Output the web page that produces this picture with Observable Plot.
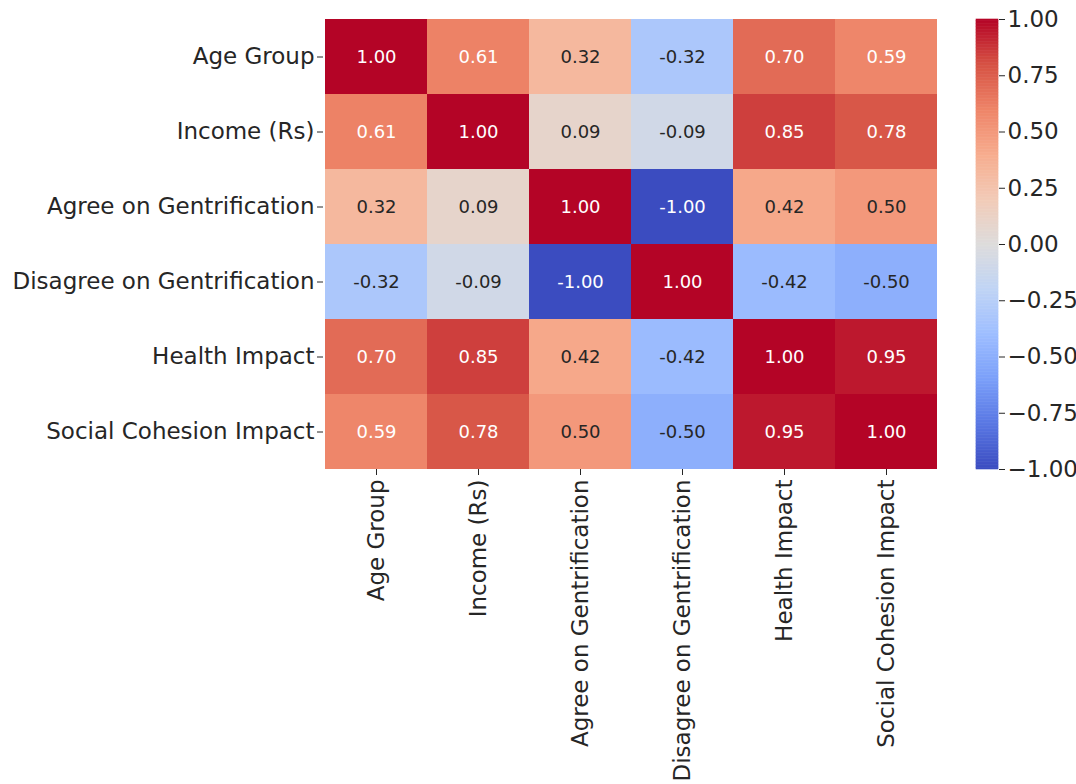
<!DOCTYPE html>
<html><head><meta charset="utf-8">
<script src="https://cdn.jsdelivr.net/npm/d3@7"></script>
<script src="https://cdn.jsdelivr.net/npm/@observablehq/plot@0.6"></script>
<style>
body{margin:0;background:#fff}
#wrap{position:relative;width:1076px;height:784px}
#wrap svg{position:absolute;top:0}
</style></head><body><div id="wrap"></div>
<script>
const labels = ["Age Group","Income (Rs)","Agree on Gentrification","Disagree on Gentrification","Health Impact","Social Cohesion Impact"];
const rowAgeGroup   = [1.00, 0.61, 0.32, -0.32, 0.70, 0.59];
const rowIncome     = [0.61, 1.00, 0.09, -0.09, 0.85, 0.78];
const rowAgree      = [0.32, 0.09, 1.00, -1.00, 0.42, 0.50];
const rowDisagree   = [-0.32, -0.09, -1.00, 1.00, -0.42, -0.50];
const rowHealth     = [0.70, 0.85, 0.42, -0.42, 1.00, 0.95];
const rowSocial     = [0.59, 0.78, 0.50, -0.50, 0.95, 1.00];
const colorbarTicks = [-1.00, -0.75, -0.50, -0.25, 0.00, 0.25, 0.50, 0.75, 1.00];
const coolwarmStops = ["#3b4cc0","#5977e3","#7b9ff9","#9ebeff","#c0d4f5","#dddcdc","#f2cbb7","#f7ac8e","#ee8468","#d65244","#b40426"];

const rows = [rowAgeGroup,rowIncome,rowAgree,rowDisagree,rowHealth,rowSocial];
const data = [];
labels.forEach((r,i)=>labels.forEach((c,j)=>data.push({row:r,col:c,v:rows[i][j]})));

const stopDomain = coolwarmStops.map((_,i)=>-1+2*i/(coolwarmStops.length-1));
const colorOpts = {type:"linear", domain: stopDomain, range: coolwarmStops, interpolate:"rgb"};
const cmap = d3.scaleLinear().domain(stopDomain).range(coolwarmStops).interpolate(d3.interpolateRgb);
function lum(c){const o=d3.rgb(c);const f=x=>{x/=255;return x<=0.03928?x/12.92:Math.pow((x+0.055)/1.055,2.4)};return 0.2126*f(o.r)+0.7152*f(o.g)+0.0722*f(o.b);}
const isLight = d => lum(cmap(d.v)) >= 0.408;

const font = {fontFamily:"DejaVu Sans", fontSize:"23px", color:"#262626", background:"transparent", overflow:"visible"};

const main = Plot.plot({
  width:1076, height:784, marginLeft:323, marginRight:138, marginTop:19, marginBottom:315,
  style:font,
  x:{domain:labels, padding:0, tickRotate:-90, tickSize:6, tickPadding:4, label:null},
  y:{domain:labels, padding:0, tickSize:6, tickPadding:3, label:null},
  color: colorOpts,
  marks:[
    Plot.cell(data,{x:"col",y:"row",fill:"v",inset:0}),
    Plot.text(data.filter(d=>!isLight(d)),{x:"col",y:"row",text:d=>d.v.toFixed(2),fill:"#ffffff",fontSize:18}),
    Plot.text(data.filter(isLight),{x:"col",y:"row",text:d=>d.v.toFixed(2),fill:"#262626",fontSize:18})
  ]
});
main.style.left = "0px";
document.getElementById("wrap").appendChild(main);

const N = 300;
const strips = d3.range(N).map(i=>({y1:-1+2*i/N, y2:-1+2*(i+1)/N, v:-1+2*(i+0.5)/N}));
const bar = Plot.plot({
  width:116, height:784, marginLeft:16, marginRight:78, marginTop:19, marginBottom:315,
  style:font,
  x:{domain:[0,1], axis:null},
  y:{domain:[-1,1], axis:null},
  color: colorOpts,
  marks:[
    Plot.rect(strips,{x1:0,x2:1,y1:"y1",y2:"y2",fill:"v",stroke:"v",strokeWidth:0.6}),
    Plot.axisY({anchor:"right", ticks:colorbarTicks, tickFormat:d3.format(".2f"), tickSize:6, tickPadding:3, label:null})
  ]
});
bar.style.left = "960px";
document.getElementById("wrap").appendChild(bar);
</script></body></html>
